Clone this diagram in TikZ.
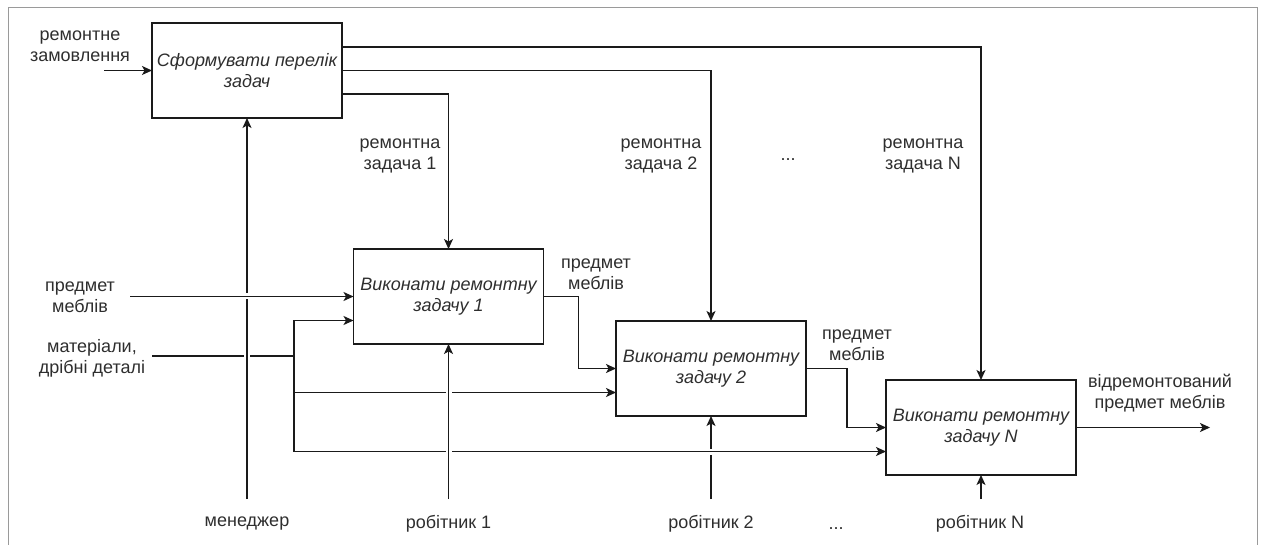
\documentclass[tikz,border=0pt]{standalone}
\usepackage{fontspec}
\setmainfont{Liberation Sans}
\usetikzlibrary{arrows.meta}
\pgfdeclarelayer{bg}
\pgfsetlayers{bg,main}
\definecolor{ink}{HTML}{1A1A1A}
\definecolor{txt}{HTML}{2E2E2E}
\definecolor{framegray}{HTML}{9A9A9A}

\begin{document}
\begin{tikzpicture}[x=1pt,y=-1pt,
  every node/.style={inner sep=0pt, outer sep=0pt},
  func/.style={draw=ink, line width=1.3pt, minimum width=190pt, minimum height=95pt,
    align=center, font=\fontsize{18}{21}\selectfont\itshape, text=txt},
  lbl/.style={align=center, font=\fontsize{18}{21}\selectfont, text=txt},
  flow/.style={draw=ink, line width=1.3pt, -{Stealth[length=10pt,width=9pt,inset=2.5pt]}},
  plain/.style={draw=ink, line width=1.3pt},
  bridge/.style={preaction={draw=white, line width=6pt, -}},
]
\useasboundingbox (0,0) rectangle (1266,545);

% activity boxes
\node[func] (A) at (247,70.5)  {Сформувати перелік\\задач};
\node[func] (B) at (448.5,296.5) {Виконати ремонтну\\задачу 1};
\node[func] (C) at (711,368.5) {Виконати ремонтну\\задачу 2};
\node[func] (D) at (981,427.5) {Виконати ремонтну\\задачу N};

% free ends of the connectors
\coordinate (orderIn) at (104,70.5);
\coordinate (itemIn)  at (130,296.5);
\coordinate (matIn)   at (152,356);
\coordinate (J)       at (294,356);
\coordinate (mgr)     at (247,499);
\coordinate (w1)      at (448.5,499);
\coordinate (w2)      at (711,499);
\coordinate (wN)      at (981,499);
\coordinate (out)     at (1210,427.5);

\begin{pgfonlayer}{bg}
  % outer frame
  \draw[framegray, line width=1pt] (8,545) -- (8,8) -- (1257,8) -- (1257,545);

  % worker 2 (crossed by the lowest materials branch)
  \draw[flow] (w2) -- (C.south);
  % materials branches
  \draw[flow,bridge] (J) |- ([yshift=-24pt]D.west);
  \draw[flow] (J) |- ([yshift=-24pt]C.west);
  \draw[flow] (J) |- ([yshift=-24pt]B.west);
  \draw[plain] (matIn) -- (J);
  % manager and worker 1 pass over the material lines
  \draw[flow,bridge] (mgr) -- (A.south);
  \draw[flow,bridge] (w1) -- (B.south);
  % furniture item input passes over the manager line
  \draw[flow,bridge] (itemIn) -- (B.west);

  % order input
  \draw[flow] (orderIn) -- (A.west);
  % task list outputs
  \draw[flow] ([yshift=23.5pt]A.east) -| (D.north);
  \draw[flow] (A.east) -| (C.north);
  \draw[flow] ([yshift=-23.5pt]A.east) -| (B.north);
  % item flow between tasks
  \draw[flow] (B.east) -- ++(35,0) |- (C.west);
  \draw[flow] (C.east) -- ++(41,0) |- (D.west);
  \draw[flow] (D.east) -- (out);
  % worker N
  \draw[flow] (wN) -- (D.south);
\end{pgfonlayer}

% labels
\node[lbl] (lOrder) at (80,46)   {ремонтне\\замовлення};
\node[lbl] (lItem)  at (80,297)  {предмет\\меблів};
\node[lbl] (lMat)   at (92,358)  {матеріали,\\дрібні деталі};
\node[lbl] (lT1)    at (400,156) {ремонтна\\задача 1};
\node[lbl] (lT2)    at (661,156) {ремонтна\\задача 2};
\node[lbl, anchor=base] (lDots1) at (788,161) {...};
\node[lbl] (lTN)    at (923,156) {ремонтна\\задача N};
\node[lbl] (lI1)    at (596,274) {предмет\\меблів};
\node[lbl] (lI2)    at (857,345) {предмет\\меблів};
\node[lbl] (lOut)   at (1160,393) {відремонтований\\предмет меблів};
\node[lbl] (lMgr)   at (247,524) {менеджер};
\node[lbl] (lW1)    at (448.5,524) {робітник 1};
\node[lbl] (lW2)    at (711,524) {робітник 2};
\node[lbl, anchor=base] (lDots2) at (836,529) {...};
\node[lbl] (lWN)    at (980,524) {робітник N};
\end{tikzpicture}
\end{document}
